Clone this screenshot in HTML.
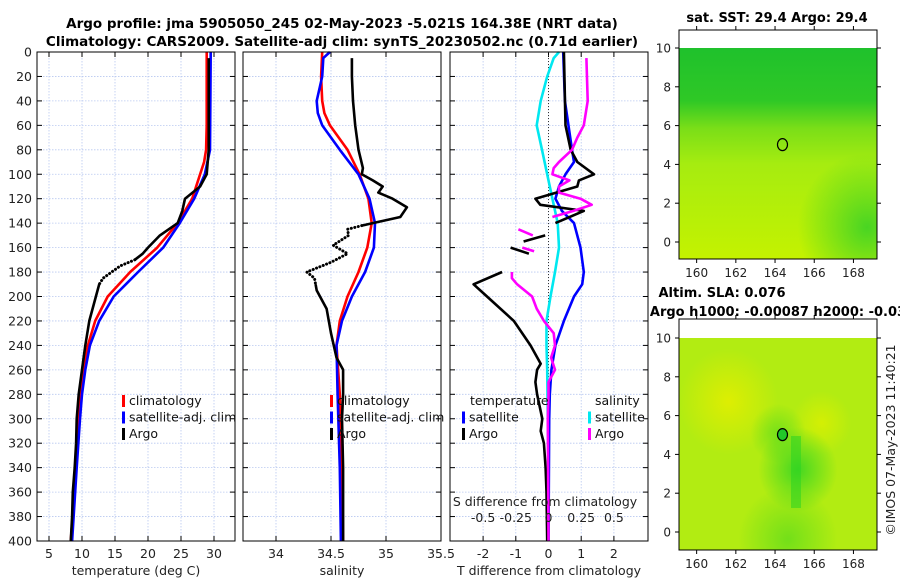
<!DOCTYPE html>
<html><head><meta charset="utf-8"><style>
html,body{margin:0;padding:0;background:#fff;}
svg{display:block;font-family:"DejaVu Sans","Liberation Sans",sans-serif;}
</style></head><body>
<svg id="chart" width="900" height="580" viewBox="0 0 900 580" xmlns="http://www.w3.org/2000/svg">
<defs>
<linearGradient id="sstBase" x1="0" y1="0" x2="0" y2="1">
<stop offset="0" stop-color="#1fc12c"/><stop offset="0.25" stop-color="#2fc826"/><stop offset="0.38" stop-color="#7ade18"/><stop offset="0.55" stop-color="#a6ec10"/><stop offset="1" stop-color="#c4f200"/>
</linearGradient>
<radialGradient id="sstBR" cx="0.95" cy="0.85" r="0.35"><stop offset="0" stop-color="#3cd226" stop-opacity="0.9"/><stop offset="1" stop-color="#3cd226" stop-opacity="0"/></radialGradient>
<radialGradient id="slaY1" cx="0.25" cy="0.3" r="0.25"><stop offset="0" stop-color="#e2ee00" stop-opacity="0.9"/><stop offset="1" stop-color="#e2ee00" stop-opacity="0"/></radialGradient>
<radialGradient id="slaY2" cx="0.72" cy="0.4" r="0.15"><stop offset="0" stop-color="#dcf000" stop-opacity="0.8"/><stop offset="1" stop-color="#dcf000" stop-opacity="0"/></radialGradient>
<radialGradient id="slaG1" cx="0.6" cy="0.62" r="0.2"><stop offset="0" stop-color="#30d424" stop-opacity="0.85"/><stop offset="1" stop-color="#30d424" stop-opacity="0"/></radialGradient>
<radialGradient id="slaG2" cx="0.5" cy="0.45" r="0.14"><stop offset="0" stop-color="#5cdc1c" stop-opacity="0.7"/><stop offset="1" stop-color="#5cdc1c" stop-opacity="0"/></radialGradient>
<radialGradient id="slaG3" cx="0.55" cy="0.95" r="0.25"><stop offset="0" stop-color="#58da1c" stop-opacity="0.7"/><stop offset="1" stop-color="#58da1c" stop-opacity="0"/></radialGradient>
<clipPath id="clip1"><rect x="679" y="30" width="198" height="229"/></clipPath>
<clipPath id="clip2"><rect x="679" y="319" width="198" height="231"/></clipPath>
</defs>
<g id="root"></g>
</svg>
<script>
// ---------- data ----------
const depthTicks = [0,20,40,60,80,100,120,140,160,180,200,220,240,260,280,300,320,340,360,380,400];
const tempTicks = [5,10,15,20,25,30];
const salTicks = [34,34.5,35,35.5];
const tdiffTicks = [-2,-1,0,1,2];
const sdiffTicks = [-0.5,-0.25,0,0.25,0.5];
const sdiffLabels = ["-0.5","-0.25","0","0.25","0.5"];

const climTempDepth = [0,60,80,90,100,120,140,160,180,200,220,240,260,280,300,340,400];
const climTemp = [28.9,28.9,28.8,28.5,27.9,26.7,24.5,21.4,17.3,13.9,12.0,10.9,10.2,9.7,9.4,9.1,8.3];
const satTempDepth = [0,80,100,120,140,160,180,200,220,240,260,280,300,340,400];
const satTemp = [29.5,29.4,28.6,27.0,24.8,22.3,18.5,14.8,12.6,11.2,10.5,10.0,9.7,9.2,8.5];
const argoTempDepth = [5,60,80,100,110,120,130,140,150,160,165,170];
const argoTemp = [29.2,29.2,29.2,28.9,27.9,25.6,25.2,24.5,21.8,20.0,19.2,18.0];
const argoTempDotDepth = [170,175,180,185,190];
const argoTempDot = [18.0,15.8,14.5,13.2,12.6];
const argoTempDeepDepth = [190,200,220,240,260,280,300,320,340,360,380,400];
const argoTempDeep = [12.6,12.1,11.1,10.5,10.0,9.5,9.2,9.1,8.9,8.6,8.5,8.3];

const climSalDepth = [0,20,40,50,60,80,100,120,140,160,180,200,220,240,280,340,400];
const climSal = [34.42,34.41,34.42,34.44,34.49,34.65,34.76,34.84,34.87,34.83,34.75,34.65,34.58,34.55,34.58,34.6,34.61];
const satSalDepth = [0,5,20,40,50,60,80,100,120,140,160,180,200,220,240,280,340,400];
const satSal = [34.49,34.43,34.42,34.37,34.38,34.42,34.58,34.75,34.85,34.9,34.89,34.81,34.69,34.6,34.55,34.56,34.58,34.59];
const argoSalDepth = [5,20,40,60,80,95,100,105,110,115,120,127,135,140,142];
const argoSal = [34.69,34.69,34.7,34.72,34.75,34.79,34.78,34.88,34.97,34.93,35.06,35.19,35.13,34.88,34.78];
const argoSalDotDepth = [142,145,150,158,165,172,180,185,190];
const argoSalDot = [34.78,34.65,34.66,34.52,34.65,34.5,34.28,34.35,34.36];
const argoSalDeepDepth = [190,195,210,230,250,260,280,300,340,400];
const argoSalDeep = [34.36,34.37,34.46,34.5,34.55,34.61,34.61,34.6,34.61,34.61];

const tdiffSatDepth = [0,40,80,90,100,110,120,130,140,160,180,190,200,220,240,260,280,300,400];
const tdiffSat = [0.45,0.5,0.72,0.78,0.52,0.32,0.21,0.41,0.78,0.98,1.08,1.03,0.78,0.47,0.21,0.09,0.04,0.02,0.0];
const tdiffArgoDepthA = [0,60,80,90,100,105,110,120,125,130,140];
const tdiffArgoA = [0.47,0.52,0.68,0.88,1.39,0.93,0.88,-0.4,-0.25,1.08,0.21];
const tdiffArgoDepthB = [150,155];
const tdiffArgoB = [-0.1,-0.76];
const tdiffArgoDepthC = [160,165];
const tdiffArgoC = [-1.16,-0.6];
const tdiffArgoDepthD = [180,190,200,220,240,255,260,270,280,300,310,320,340,360,400];
const tdiffArgoD = [-1.42,-2.29,-1.88,-1.06,-0.55,-0.24,-0.35,-0.4,-0.35,-0.19,-0.24,-0.14,-0.09,-0.06,-0.04];
const sdiffSatDepth = [0,5,20,40,60,80,100,120,140,160,180,200,220,240,260,300,340,400];
const sdiffSat = [0.08,0.04,-0.01,-0.06,-0.09,-0.05,-0.01,0.03,0.07,0.08,0.05,0.015,-0.015,-0.015,-0.01,-0.005,0,0];
const sdiffArgoDepthA = [5,40,60,70,80,90,95,100,105,110,115,120,125,130,135];
const sdiffArgoA = [0.29,0.3,0.27,0.22,0.18,0.08,0.04,0.03,0.16,0.08,0.08,0.245,0.33,0.19,0.03];
const sdiffArgoDepthB = [145,150];
const sdiffArgoB = [-0.23,-0.12];
const sdiffArgoDepthC = [160,163];
const sdiffArgoC = [-0.2,-0.11];
const sdiffArgoDepthD = [180,185,190,200,210,220,230,240,250,260,270,280,300,400];
const sdiffArgoD = [-0.28,-0.28,-0.24,-0.125,-0.09,-0.035,0.04,0.05,0.02,0.05,0.0,0.0,-0.005,0];

const lonTicks = [160,162,164,166,168];
const latTicks = [0,2,4,6,8,10];

// ---------- helpers ----------
const NS="http://www.w3.org/2000/svg";
const root=document.getElementById('root');
function mk(tag,attrs,parent){const e=document.createElementNS(NS,tag);for(const k in attrs)e.setAttribute(k,attrs[k]);(parent||root).appendChild(e);return e;}
function txt(x,y,s,opt,parent){const t=mk('text',Object.assign({x:x,y:y,'font-size':12.5,fill:'#222'},opt||{}),parent);t.textContent=s;return t;}

const yD = d => 52 + d*1.2225;
const P1={x0:37,x1:235}, P2={x0:243,x1:441}, P3={x0:450,x1:648};
const xT = t => 49 + (t-5)*6.6;
const xS = s => 276 + (s-34)*110;
const xTd = v => 548.5 + v*32.7;
const xSd = v => 548.5 + v*130.8;

function panel(P,name,xticks,xf){
  const g=mk('g',{});
  
  
  xticks.forEach(v=>{const x=xf(v);const l=mk('line',{x1:x,x2:x,y1:52,y2:541,stroke:'#b8c8f0','stroke-width':0.8,'stroke-dasharray':'1.5,1.5'},g);
    });
  depthTicks.forEach(d=>{const y=yD(d);const l=mk('line',{x1:P.x0,x2:P.x1,y1:y,y2:y,stroke:'#b8c8f0','stroke-width':0.8,'stroke-dasharray':'1.5,1.5'},g);
    
    mk('line',{x1:P.x0,x2:P.x0+5,y1:y,y2:y,stroke:'#000'},g);mk('line',{x1:P.x1-5,x2:P.x1,y1:y,y2:y,stroke:'#000'},g);});
  xticks.forEach(v=>{const x=xf(v);mk('line',{x1:x,x2:x,y1:541,y2:536,stroke:'#000'},g);mk('line',{x1:x,x2:x,y1:52,y2:57,stroke:'#000'},g);});
  return g;
}
function line(xs,ds,xf,color,name,dash,w){
  const pts=xs.map((v,i)=>xf(v).toFixed(1)+','+yD(ds[i]).toFixed(1)).join(' ');
  const p=mk('polyline',{points:pts,fill:'none',stroke:color,'stroke-width':w||2.6,'stroke-linejoin':'round','stroke-linecap':dash?'round':'butt'});
  if(dash){p.setAttribute('stroke-dasharray','0.1,3.5');p.setAttribute('stroke-width',3);}
  
  
  return p;
}
function frame(P,name){const r=mk('rect',{x:P.x0,y:52,width:P.x1-P.x0,height:489,fill:'none',stroke:'#000','stroke-width':1});
  }

// titles
let t1=txt(342,28,'Argo profile: jma 5905050_245 02-May-2023 -5.021S 164.38E (NRT data)',{'font-weight':'bold','font-size':13.5,'text-anchor':'middle',fill:'#000'});

let t2=txt(342,46,'Climatology: CARS2009. Satellite-adj clim: synTS_20230502.nc (0.71d earlier)',{'font-weight':'bold','font-size':13.5,'text-anchor':'middle',fill:'#000'});


// panel 1
panel(P1,'temperature-panel',tempTicks,xT);
line(climTemp,climTempDepth,xT,'#f00','temp-climatology-line');
line(satTemp,satTempDepth,xT,'#00f','temp-satellite-line');
line(argoTemp,argoTempDepth,xT,'#000','temp-argo-line');
line(argoTempDot,argoTempDotDepth,xT,'#000','temp-argo-dotted',true);
line(argoTempDeep,argoTempDeepDepth,xT,'#000','temp-argo-deep-line');
frame(P1,'temperature-axes-frame');
depthTicks.forEach(d=>{const t=txt(32,yD(d)+4.5,String(d),{'text-anchor':'end'});});
tempTicks.forEach(v=>{const t=txt(xT(v),558,String(v),{'text-anchor':'middle'});});
let xl1=txt(136,575,'temperature (deg C)',{'text-anchor':'middle'});

function legend(x,y,items,name){
  const g=mk('g',{});
  items.forEach((it,i)=>{mk('rect',{x:x,y:y+i*16.5-10,width:3,height:12,fill:it[1]},g);txt(x+7,y+i*16.5,it[0],{fill:'#111'},g);});
}
legend(122,405,[['climatology','#f00'],['satellite-adj. clim','#00f'],['Argo','#000']],'temp-legend');

// panel 2
panel(P2,'salinity-panel',salTicks.slice(0,3),xS);
line(climSal,climSalDepth,xS,'#f00','sal-climatology-line');
line(satSal,satSalDepth,xS,'#00f','sal-satellite-line');
line(argoSal,argoSalDepth,xS,'#000','sal-argo-line');
line(argoSalDot,argoSalDotDepth,xS,'#000','sal-argo-dotted',true);
line(argoSalDeep,argoSalDeepDepth,xS,'#000','sal-argo-deep-line');
frame(P2,'salinity-axes-frame');
salTicks.forEach(v=>{const t=txt(xS(v),558,String(v),{'text-anchor':'middle'});});
let xl2=txt(342,575,'salinity',{'text-anchor':'middle'});
legend(330,405,[['climatology','#f00'],['satellite-adj. clim','#00f'],['Argo','#000']],'salinity-legend');

// panel 3
panel(P3,'difference-panel',tdiffTicks,xTd);
const zl=mk('line',{x1:548.5,x2:548.5,y1:52,y2:541,stroke:'#333','stroke-width':1,'stroke-dasharray':'1,2'});

line(sdiffSat,sdiffSatDepth,xSd,'#00e8f0','sdiff-satellite-line');
line(tdiffSat,tdiffSatDepth,xTd,'#00f','tdiff-satellite-line');
line(tdiffArgoA,tdiffArgoDepthA,xTd,'#000','tdiff-argo-line');
line(tdiffArgoB,tdiffArgoDepthB,xTd,'#000','tdiff-argo-line');
line(tdiffArgoC,tdiffArgoDepthC,xTd,'#000','tdiff-argo-line');
line(tdiffArgoD,tdiffArgoDepthD,xTd,'#000','tdiff-argo-line');
line(sdiffArgoA,sdiffArgoDepthA,xSd,'#f0f','sdiff-argo-line');
line(sdiffArgoB,sdiffArgoDepthB,xSd,'#f0f','sdiff-argo-line');
line(sdiffArgoC,sdiffArgoDepthC,xSd,'#f0f','sdiff-argo-line');
line(sdiffArgoD,sdiffArgoDepthD,xSd,'#f0f','sdiff-argo-line');
frame(P3,'difference-axes-frame');
tdiffTicks.forEach(v=>{const t=txt(xTd(v),558,String(v),{'text-anchor':'middle'});});
let xl3=txt(549,575,'T difference from climatology',{'text-anchor':'middle'});
let sl=txt(545,506,'S difference from climatology',{'text-anchor':'middle'});
sdiffTicks.forEach((v,i)=>{const t=txt(xSd(v),522,sdiffLabels[i],{'text-anchor':'middle'});});
let lt=txt(470,405,'temperature',{fill:'#111'});
let ls=txt(595,405,'salinity',{fill:'#111'});
legend(462,421.5,[['satellite','#00f'],['Argo','#000']],'tdiff-legend');
legend(588,421.5,[['satellite','#00e8f0'],['Argo','#f0f']],'sdiff-legend');

// maps
function map(M,name,title,fillFn){
  const g=mk('g',{});
  const xL=lon=>M.x0+(lon-159.1)*19.6;
  const yL=lat=>M.y10+(10-lat)*19.4;
  const fg=mk('g',{'clip-path':M.clip},g);
  fillFn(fg,M.x0,yL(10),198,M.yb-yL(10));
  mk('rect',{x:M.x0,y:M.yt,width:198,height:M.yb-M.yt,fill:'none',stroke:'#000'},g);
  const c=mk('ellipse',{cx:xL(164.38),cy:yL(5.02),rx:5,ry:6,fill:M.markFill,stroke:'#000','stroke-width':1.2},g);
  
  lonTicks.forEach(v=>{const x=xL(v);mk('line',{x1:x,x2:x,y1:M.yb,y2:M.yb+4,stroke:'#000'},g);mk('line',{x1:x,x2:x,y1:M.yt,y2:M.yt-4,stroke:'#000'},g);
    const t=txt(x,M.yb+18,String(v),{'text-anchor':'middle','font-size':12},g);});
  latTicks.forEach(v=>{const y=yL(v);mk('line',{x1:M.x0-4,x2:M.x0,y1:y,y2:y,stroke:'#000'},g);mk('line',{x1:M.x0+198,x2:M.x0+202,y1:y,y2:y,stroke:'#000'},g);
    const t=txt(M.x0-8,y+4.5,String(v),{'text-anchor':'end','font-size':12},g);});
  title.forEach((s,i)=>{const t=txt(s[1],s[2],s[0],{'text-anchor':'middle','font-weight':'bold','font-size':13,fill:'#000'},g);});
}
map({x0:679,yt:30,yb:259,y10:48,markFill:'none',clip:'url(#clip1)'},'sst-map',[['sat. SST: 29.4 Argo: 29.4',777,22]],(g,x,y,w,h)=>{
  mk('rect',{x:x,y:y,width:w,height:h,fill:'url(#sstBase)'},g);
  mk('rect',{x:x,y:y,width:w,height:h,fill:'url(#sstBR)'},g);
});
map({x0:679,yt:319,yb:550,y10:338,markFill:'#22c82a',clip:'url(#clip2)'},'sla-map',[['Altim. SLA: 0.076',722,297],['Argo h1000: -0.00087 h2000: -0.03',778,316]],(g,x,y,w,h)=>{
  mk('rect',{x:x,y:y,width:w,height:h,fill:'#b2ec12'},g);
  mk('rect',{x:x,y:y,width:w,height:h,fill:'url(#slaY1)'},g);
  mk('rect',{x:x,y:y,width:w,height:h,fill:'url(#slaY2)'},g);
  mk('rect',{x:x,y:y,width:w,height:h,fill:'url(#slaG2)'},g);
  mk('rect',{x:x,y:y,width:w,height:h,fill:'url(#slaG3)'},g);
  mk('rect',{x:x,y:y,width:w,height:h,fill:'url(#slaG1)'},g);
  mk('rect',{x:x+112,y:y+98,width:10,height:72,fill:'#2cd422',opacity:0.55},g);
});
const cr=txt(0,0,'©IMOS 07-May-2023 11:40:21',{'font-size':12.5,'text-anchor':'middle',transform:'translate(895,440) rotate(-90)'});

</script>
</body></html>
